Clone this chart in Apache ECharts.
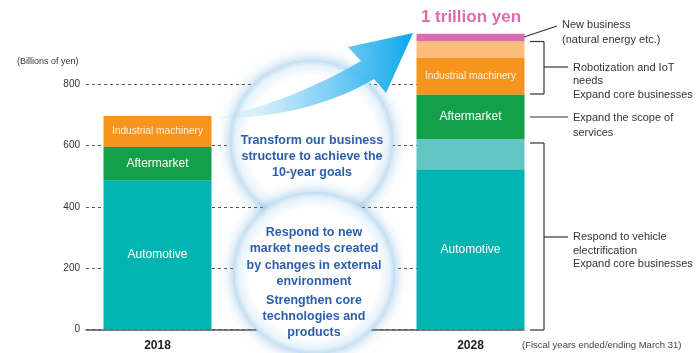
<!DOCTYPE html>
<html>
<head>
<meta charset="utf-8">
<script src="https://cdn.jsdelivr.net/npm/echarts@6/dist/echarts.min.js"></script>
<style>html,body{margin:0;padding:0;background:#fff;}#c{width:696px;height:353px;}</style>
</head>
<body>
<div id="c"></div>
<script>
const categories = ['2018', '2028'];
const automotive = [486, 522];
const automotiveGrowth = [null, 98];
const aftermarket = [109, 146];
const industrial = [101, 119];
const industrialGrowth = [null, 54];
const newBusiness = [null, 25];
const yMin = 0, yMaxAxis = 800, yMaxPlot = 1000, yInterval = 200;

const chart = echarts.init(document.getElementById('c'));
const FONT = "'Liberation Sans', Arial, sans-serif";
const BLUE = '#2b5fad';

function circleStyle() {
  return {
    fill: new echarts.graphic.RadialGradient(0.5, 0.5, 0.5, [
      {offset: 0, color: '#ffffff'},
      {offset: 0.8, color: '#ffffff'},
      {offset: 0.93, color: '#e8f3fb'},
      {offset: 1, color: '#c2def2'}
    ]),
    shadowBlur: 14,
    shadowColor: 'rgba(90,160,215,0.6)'
  };
}
function txt(x, y, text, opts) {
  return {
    type: 'text', x: x, y: y, z: 20,
    style: Object.assign({text: text, fill: '#333', font: '11px ' + FONT, verticalAlign: 'middle'}, opts || {})
  };
}
function line(x1, y1, x2, y2) {
  return {type: 'line', z: 20, shape: {x1: x1, y1: y1, x2: x2, y2: y2}, style: {stroke: '#333', lineWidth: 1.2}};
}
function quad(p0, c, p1, n) {
  const pts = [];
  for (let i = 0; i <= n; i++) {
    const t = i / n, u = 1 - t;
    pts.push([u * u * p0[0] + 2 * u * t * c[0] + t * t * p1[0], u * u * p0[1] + 2 * u * t * c[1] + t * t * p1[1]]);
  }
  return pts;
}
const arrowPts = [].concat(
  quad([218, 118.5], [310, 117], [374, 79], 24),
  [[386, 93], [413, 33], [348, 47]],
  quad([361, 61], [292, 101], [218, 117.5], 24)
);

const barLabel = (size, color) => ({
  show: true, position: 'inside', formatter: '{a}', color: color || '#fff',
  fontSize: size, fontFamily: FONT
});

const option = {
  animation: false,
  grid: [
    {left: 86, right: 172, top: 84, bottom: 23.5},
    {left: 1, right: 69, top: 22.6, bottom: 23.5}
  ],
  xAxis: [
    {type: 'category', gridIndex: 0, data: [''], axisLine: {lineStyle: {color: '#555', width: 1.5}}, axisTick: {show: false}, axisLabel: {show: false}},
    {type: 'category', gridIndex: 1, data: categories, axisLine: {show: false}, axisTick: {show: false},
     axisLabel: {color: '#222', fontSize: 12, fontWeight: 'bold', fontFamily: FONT, margin: 10}}
  ],
  yAxis: [
    {type: 'value', gridIndex: 0, min: yMin, max: yMaxAxis, interval: yInterval,
     axisLine: {show: false}, axisTick: {show: false},
     axisLabel: {color: '#333', fontSize: 10, fontFamily: FONT, margin: 6},
     splitLine: {lineStyle: {color: '#555', type: [3, 3], width: 1}}},
    {type: 'value', gridIndex: 1, min: yMin, max: yMaxPlot, show: false, splitLine: {show: false}}
  ],
  series: [
    {name: 'Automotive', type: 'bar', stack: 's', xAxisIndex: 1, yAxisIndex: 1, barWidth: 108, data: automotive,
     itemStyle: {color: '#00b5b1'}, label: barLabel(12)},
    {name: 'Automotive growth', type: 'bar', stack: 's', xAxisIndex: 1, yAxisIndex: 1, data: automotiveGrowth,
     itemStyle: {color: '#63c6c5'}, label: {show: false}},
    {name: 'Aftermarket', type: 'bar', stack: 's', xAxisIndex: 1, yAxisIndex: 1, data: aftermarket,
     itemStyle: {color: '#12a04a'}, label: barLabel(12)},
    {name: 'Industrial machinery', type: 'bar', stack: 's', xAxisIndex: 1, yAxisIndex: 1, data: industrial,
     itemStyle: {color: '#f7941e'}, label: barLabel(10.2, '#fff1df')},
    {name: 'Industrial growth', type: 'bar', stack: 's', xAxisIndex: 1, yAxisIndex: 1, data: industrialGrowth,
     itemStyle: {color: '#fcbd78'}, label: {show: false}},
    {name: 'New business', type: 'bar', stack: 's', xAxisIndex: 1, yAxisIndex: 1, data: newBusiness,
     itemStyle: {color: '#d96dad'}, label: {show: false}}
  ],
  graphic: [
    {type: 'circle', z: 10, shape: {cx: 311.5, cy: 141.5, r: 81.5}, style: circleStyle()},
    {type: 'circle', z: 11, shape: {cx: 314, cy: 273, r: 81}, style: circleStyle()},
    {type: 'polygon', z: 15, shape: {points: arrowPts},
     style: {fill: new echarts.graphic.LinearGradient(0, 0, 1, 0, [
       {offset: 0, color: 'rgba(200,235,252,0.25)'},
       {offset: 0.45, color: 'rgba(120,205,245,0.75)'},
       {offset: 1, color: '#0aa6ea'}
     ])}},
    txt(312, 157, 'Transform our business\nstructure to achieve the\n10-year goals',
        {fill: BLUE, font: 'bold 12.5px ' + FONT, align: 'center', lineHeight: 16}),
    txt(314, 257, 'Respond to new\nmarket needs created\nby changes in external\nenvironment',
        {fill: BLUE, font: 'bold 12.5px ' + FONT, align: 'center', lineHeight: 16.3}),
    txt(314, 316.5, 'Strengthen core\ntechnologies and\nproducts',
        {fill: BLUE, font: 'bold 12.5px ' + FONT, align: 'center', lineHeight: 16.3}),
    txt(471, 17, '1 trillion yen', {fill: '#e06aae', font: 'bold 17px ' + FONT, align: 'center'}),
    txt(17, 62, '(Billions of yen)', {fill: '#333', font: '9px ' + FONT}),
    txt(522, 345, '(Fiscal years ended/ending March 31)', {fill: '#444', font: '9.5px ' + FONT}),
    line(524, 37, 557, 26),
    txt(562, 32.5, 'New business\n(natural energy etc.)', {lineHeight: 14.5}),
    line(530, 41.5, 544, 41.5), line(544, 41.5, 544, 94), line(530, 94, 544, 94), line(544, 67, 568, 67),
    txt(573, 81, 'Robotization and IoT\nneeds\nExpand core businesses', {lineHeight: 13.5}),
    line(530, 117, 568, 117),
    txt(573, 125, 'Expand the scope of\nservices', {lineHeight: 15}),
    line(530, 143, 544, 143), line(544, 143, 544, 330), line(530, 330, 544, 330), line(544, 237, 568, 237),
    txt(573, 250.5, 'Respond to vehicle\nelectrification\nExpand core businesses', {lineHeight: 13.5})
  ]
};
chart.setOption(option);
</script>
</body>
</html>
